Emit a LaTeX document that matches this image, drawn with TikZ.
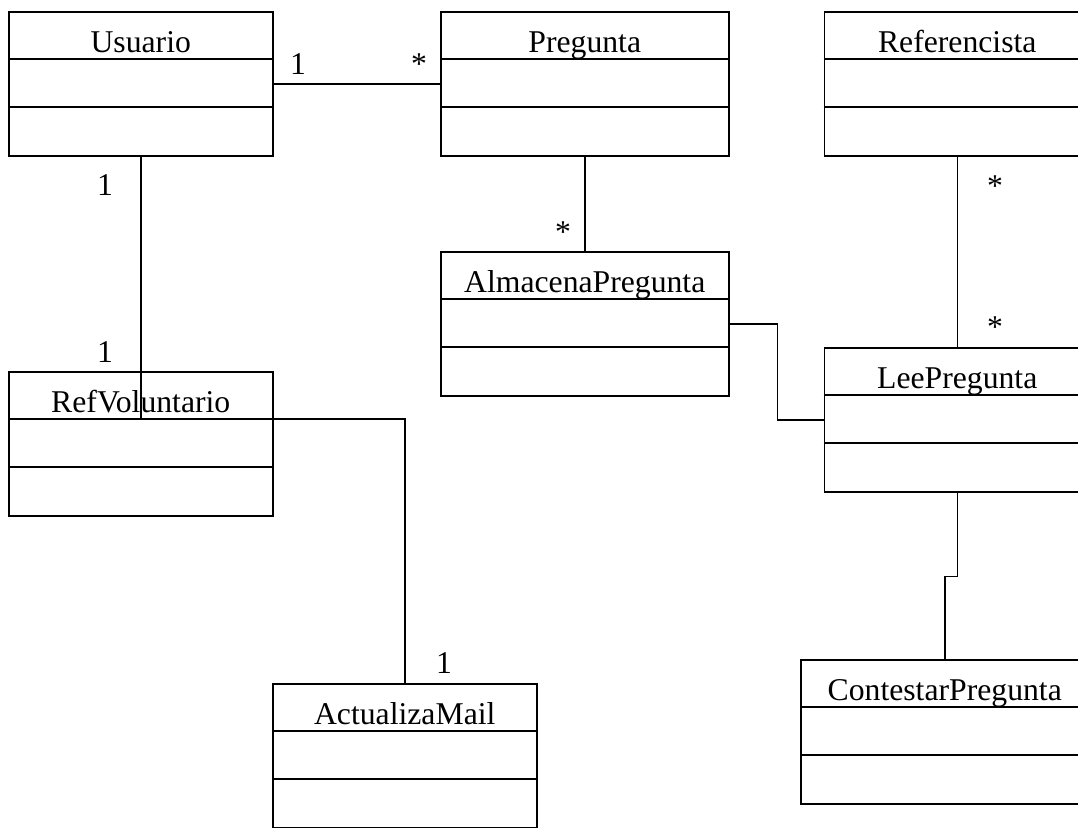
\documentclass[tikz,border=0pt]{standalone}
\usepackage{fontspec}
\setmainfont{Liberation Serif}
\begin{document}
\begin{tikzpicture}[x=1pt,y=-1pt,
  line width=1.5pt,
  classbox/.style={draw, rectangle, anchor=north west, inner sep=0pt, minimum height=144pt},
  classtitle/.style={anchor=base, inner sep=0pt, font=\fontsize{31.7}{38}\selectfont},
  mult/.style={anchor=base, inner sep=0pt, font=\fontsize{31.7}{38}\selectfont}]
\useasboundingbox (0,0) rectangle (1078,827);
\fill[white] (0,0) rectangle (1078,827);
\clip (0,0) rectangle (1078,827);

% class box: name, position of upper left corner, width, title
\newcommand{\umlclass}[5]{%
  \node[classbox, minimum width=#4 pt] (#1) at (#2,#3) {};
  \draw ([yshift=-48pt]#1.north west) -- ([yshift=-48pt]#1.north east);
  \draw ([yshift=-96pt]#1.north west) -- ([yshift=-96pt]#1.north east);
  \node[classtitle] (#1-title) at ([yshift=-41pt]#1.north) {#5};
}

\umlclass{usuario}{8}{11}{264}{Usuario}
\umlclass{pregunta}{440}{11}{288}{Pregunta}
\umlclass{referencista}{823.5}{11}{266}{Referencista}
\umlclass{almacena}{440}{251}{288}{AlmacenaPregunta}
\umlclass{refvol}{8}{371}{264}{RefVoluntario}
\umlclass{lee}{823.5}{347}{266}{LeePregunta}
\umlclass{actualiza}{272}{683}{264}{ActualizaMail}
\umlclass{contestar}{800}{659}{288}{ContestarPregunta}

% associations
\draw (usuario.east) -- (pregunta.west);
\draw (usuario.south) -- ([yshift=-48pt]refvol.north);
\draw (pregunta.south) -- (almacena.north);
\draw (referencista.south) -- (lee.north);
\draw (almacena.east) -- ++(48,0) |- (lee.west);
\draw ([yshift=-48pt]refvol.north east) -| (actualiza.north);
\coordinate (leestep) at ([yshift=-84pt]lee.south);
\draw (lee.south) -- (leestep) -| (contestar.north);

% multiplicities
\node[mult] (m1) at (298,74) {1};
\node[mult] (m2) at (419,74) {*};
\node[mult] (m3) at (105,195) {1};
\node[mult] (m4) at (105,362) {1};
\node[mult] (m5) at (563,242) {*};
\node[mult] (m6) at (995,196) {*};
\node[mult] (m7) at (995,337) {*};
\node[mult] (m8) at (444,673) {1};
\end{tikzpicture}
\end{document}
